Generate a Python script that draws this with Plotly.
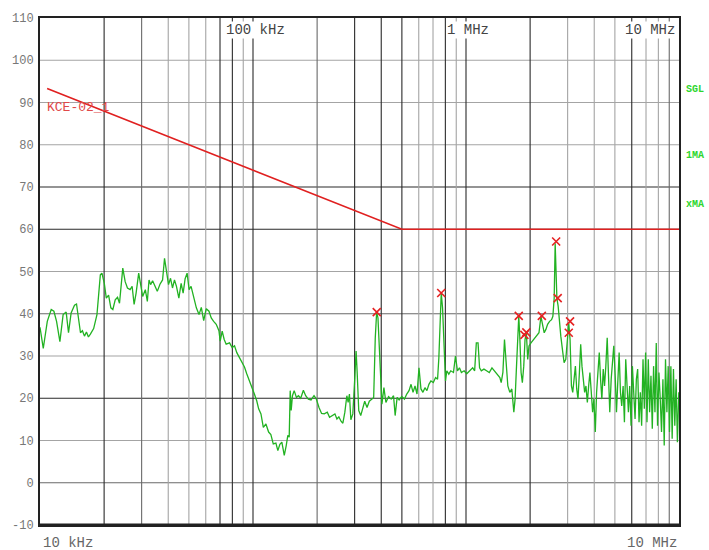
import math
import plotly.graph_objects as go

# ---------------- data ----------------
freq_khz = [
    10.0, 10.36, 10.82, 11.29, 11.62, 11.96, 12.40, 12.84, 13.27, 13.61,
    14.00, 14.52, 14.84, 15.16, 15.49, 15.82, 16.17, 16.52, 16.88, 17.24,
    17.86, 18.51, 19.20, 19.53, 20.04, 20.48, 20.99, 21.51, 21.98, 22.55,
    23.12, 23.62, 24.06, 24.47, 25.11, 25.74, 26.49, 27.07, 27.66, 28.26,
    29.06, 29.70, 30.34, 31.23, 31.91, 32.50, 33.06, 33.78, 34.51, 35.53,
    36.58, 37.62, 38.43, 39.26, 40.12, 41.00, 41.88, 42.79, 43.72, 44.86,
    45.99, 46.99, 48.01, 49.05, 50.12, 51.20, 52.32,
    54.20, 55.79, 57.19, 58.69, 60.35, 62.13, 63.68, 65.35, 67.20, 69.18,
    70.15, 71.67, 73.23, 74.82, 77.62, 79.80, 81.89, 83.94, 86.43, 88.87,
    91.19, 93.46, 96.21, 98.93, 101.5, 104.1, 106.3, 109.0, 111.8, 115.0,
    118.4, 121.3, 124.5, 128.1, 130.8, 133.7, 136.6, 140.2, 143.2, 145.7,
    147.9, 149.5, 151.1, 153.2, 156.1, 159.9, 163.4, 167.5, 172.4, 176.7,
    181.9, 187.3, 193.4, 198.3, 204.1, 209.9, 216.1, 223.2, 228.8, 235.5,
    242.4, 247.7, 253.0, 259.4, 264.2, 269.9, 275.8, 279.7, 283.6, 288.0,
    294.2, 300.6, 304.8, 308.1, 313.7, 320.5, 327.5, 334.6, 343.0, 351.6,
    361.9,
    368.6, 375.0, 380.7, 386.1, 391.5, 397.4, 403.0, 411.7, 420.7, 433.1,
    445.3, 456.9, 464.9, 475.0, 485.3, 499.4, 514.1, 527.0, 540.1, 552.1,
    564.0, 576.3, 588.8, 601.6, 614.6, 627.9, 641.6, 655.5, 669.7, 684.3,
    702.2, 719.7, 735.4, 745.7, 757.0, 765.2, 776.0, 786.9, 801.4, 812.6,
    830.3, 848.3, 873.3, 892.2, 911.8, 931.5, 951.7, 979.7, 1008, 1041,
    1075, 1098, 1118, 1139, 1158, 1180, 1214, 1249, 1286, 1324,
    1361, 1401, 1442,
    1463, 1490, 1516, 1543, 1572, 1606, 1641, 1677, 1700, 1724,
    1750, 1769, 1788, 1814, 1839, 1867, 1893, 1920, 1949, 1976,
    2019, 2079, 2138, 2201, 2248, 2290, 2329, 2372, 2416, 2468,
    2522, 2558, 2594, 2622, 2650, 2671, 2708, 2749, 2787, 2848,
    2888, 2941, 2995, 3037, 3080, 3126, 3170, 3214, 3263, 3309,
    3356, 3407, 3455, 3503, 3556, 3606, 3657, 3713, 3765, 3817,
    3875, 3930, 3985, 4046, 4103, 4161, 4224, 4283, 4344, 4409,
    4471, 4534, 4602, 4667, 4732, 4804, 4872, 4941, 5016, 5087,
    5158, 5236, 5310, 5385, 5466, 5543, 5622, 5707, 5787, 5869,
    5957, 6042, 6126, 6219, 6307, 6396, 6492, 6584, 6677, 6778,
    6874, 6970, 7075, 7175, 7277, 7386, 7491, 7597, 7712, 7821,
    7930, 8050, 8164, 8279, 8404, 8523, 8643, 8774, 8897, 9023,
    9159, 9288, 9419, 9557, 9694, 9829, 9979,
]
level_dbuv = [
    36.8, 31.8, 38.2, 41, 40.6, 38.2, 33.4, 39.8, 40.4, 35.5,
    40.2, 42, 42.3, 39, 35.5, 36, 34.7, 35.7, 34.5, 35.2,
    36.5, 39.8, 49.2, 49.6, 47.2, 43.7, 44.4, 41.4, 41, 43.3,
    43.9, 42.5, 46.9, 50.8, 47.6, 46.1, 45.7, 46.5, 42.2, 44.9,
    49.6, 47.2, 44.1, 45.7, 42.9, 48, 46.9, 47.8, 46.9, 45.3,
    47, 48, 53.1, 50.4, 46.9, 48.4, 46.1, 48, 46.5, 43.7,
    47.2, 44.9, 48.3, 49.6, 45.7, 46.5, 44.5,
    41.4, 39.8, 41.5, 38.4, 41.2, 40.6, 39, 38.2, 37.5, 36,
    33.5, 35.9, 33.9, 32.8, 33.1, 32, 32.4, 30.8, 29.6, 28.4,
    27.4, 25.8, 24.3, 22.5, 21, 19.4, 17.5, 16.3, 13.1, 13.9,
    12, 11.4, 9.2, 9.4, 7.6, 9.1, 9.6, 6.5, 8.8, 11.2,
    10.8, 21.8, 17.1, 20.6, 21.8, 20.2, 20.6, 20, 21.9, 20.6,
    19.8, 19.6, 20.6, 19.8, 17.8, 16.4, 16.3, 16.7, 15.5, 15.9,
    16.3, 15.1, 15.6, 14.5, 14.1, 16.7, 20.6, 19, 21, 14.9,
    16.3, 24.9, 31.2, 26.5, 17.1, 15.9, 17.8, 19.3, 17.8, 19.3,
    19.8,
    20.2, 34.3, 40.4, 39, 32.8, 24.9, 18.6, 22.5, 19, 20.4,
    19.8, 20.6, 15.9, 20.2, 19.6, 20.4, 19.8, 21, 21.8, 23.3,
    21.4, 22.9, 21, 27.2, 22.2, 21.4, 22.5, 21.8, 23.3, 24.1,
    23.7, 24.9, 24.5, 29.6, 39.8, 44.9, 41.4, 32, 24.1, 26.5,
    25.7, 26.5, 26.1, 30, 26.5, 27.2, 26.1, 26.5, 25.8, 26.5,
    27.2, 26.5, 33.1, 33.1, 27.2, 26.5, 26.9, 26.5, 26.1, 27.2,
    26.5, 25.7, 24.9,
    23.7, 26.1, 33.9, 27.6, 22.9, 21.4, 22.2, 16.7, 19.8, 26.9,
    37.1, 39.4, 34.7, 26.1, 23.7, 27.6, 33.9, 35.5, 29.2, 32.4,
    33.1, 33.9, 34.7, 35.5, 39.4, 37.1, 35.5, 36.3, 37.5, 38.2,
    38.6, 39.4, 43.7, 56.7, 51.2, 43.7, 41.8, 37.8, 34.7, 30.8,
    28.4, 29.2, 33.1, 37.8, 33.9, 22.9, 21.4, 24.5, 27.6, 22.2,
    19.8, 26.1, 32.8, 27.6, 23.7, 21.4, 22.9, 19, 22.9, 26.1,
    21.4, 16.7, 19.8, 12, 21.4, 27.6, 30.8, 24.5, 19.8, 26.9,
    22.9, 27.6, 34.3, 25.3, 16.7, 24.5, 29.6, 32.4, 25.3, 16.7,
    23.7, 30.8, 21.4, 18.2, 22.9, 14.3, 29.2, 23.7, 16.7, 22.9,
    13.5, 27.6, 21.4, 15.1, 24.5, 26.9, 14.3, 21.4, 13.5, 29.2,
    17.5, 30.8, 14.3, 29.2, 16.7, 25.3, 12.8, 27.6, 16.7, 33.1,
    13.5, 26.1, 19.8, 12, 24.5, 8.8, 29.2, 16.7, 27.6, 12,
    27.6, 10.4, 26.9, 13.5, 24.5, 9.6, 21.4,
]

marker_khz = [381, 765, 1769, 1880, 1920, 2270, 2650, 2695, 3037, 3080]
marker_dbuv = [40.4, 44.9, 39.5, 35.0, 35.6, 39.5, 57.1, 43.7, 35.5, 38.2]

limit_khz = [10.8, 500, 10000]
limit_dbuv = [93.3, 60, 60]
limit_name = "KCE-02_1"

y_ticks = list(range(-10, 111, 10))

# grid lines: value and shade (k = black, d = dark grey, g = light grey)
vgrid_khz = [20, 30, 40, 50, 60, 70, 80, 90, 100, 200, 300, 400, 500, 600, 700,
             800, 900, 1000, 2000, 3000, 4000, 5000, 6000, 7000, 8000, 9000]
vgrid_shade = ["k", "d", "g", "g", "g", "k", "k", "g", "k", "d", "k", "k", "k", "g", "g",
               "k", "g", "k", "k", "g", "g", "g", "k", "g", "g", "d"]
hgrid_val = [100, 90, 80, 70, 60, 50, 40, 30, 20, 10, 0]
hgrid_shade = ["g", "g", "g", "k", "k", "g", "d", "g", "k", "g", "d"]

top_labels = [(100, "100 kHz"), (1000, "1 MHz"), (10000, "10 MHz")]
side_labels = [(93.1, "SGL"), (77.5, "1MA"), (65.8, "xMA")]

shade_col = {"k": "#2a2a2a", "d": "#6a6a6a", "g": "#a4a4a4"}
MONO = "Liberation Mono, DejaVu Sans Mono, monospace"

# ---------------- figure ----------------
fig = go.Figure()

# vertical grid lines as line traces in data coordinates (one trace per shade)
for shade in ["g", "d", "k"]:
    xs, ys = [], []
    for f, s in zip(vgrid_khz, vgrid_shade):
        if s == shade:
            xs += [f, f, None]
            ys += [-10, 110, None]
    fig.add_trace(go.Scatter(x=xs, y=ys, mode="lines",
                             line=dict(color=shade_col[shade], width=1.1),
                             showlegend=False, hoverinfo="skip"))

fig.add_trace(go.Scatter(
    x=freq_khz, y=level_dbuv, mode="lines",
    line=dict(color="#22b222", width=1.3), showlegend=False, hoverinfo="skip"))

fig.add_trace(go.Scatter(
    x=limit_khz, y=limit_dbuv, mode="lines",
    line=dict(color="#e02020", width=1.6), showlegend=False, hoverinfo="skip"))

fig.add_trace(go.Scatter(
    x=marker_khz, y=marker_dbuv, mode="markers",
    marker=dict(symbol="x-thin", size=8, line=dict(color="#e52222", width=1.6)),
    showlegend=False, hoverinfo="skip"))

shapes = []
for v, s in zip(hgrid_val, hgrid_shade):
    shapes.append(dict(type="line", xref="paper", yref="y",
                       x0=0, x1=1, y0=v, y1=v,
                       line=dict(color=shade_col[s], width=1.1), layer="below"))
# thicker bottom frame
shapes.append(dict(type="line", xref="paper", yref="paper", x0=0, x1=1, y0=0, y1=0,
                   line=dict(color="#222", width=3)))

annotations = []
for f, t in top_labels:
    right = f == top_labels[-1][0]
    annotations.append(dict(
        x=math.log10(f), y=1, xref="x", yref="paper",
        xanchor="right" if right else "center", yanchor="top",
        xshift=-3 if right else 2, yshift=-3,
        text=t, showarrow=False, bgcolor="white", borderpad=0,
        font=dict(family=MONO, size=14, color="#444")))

annotations.append(dict(x=0, y=0, xref="paper", yref="paper", xanchor="left", yanchor="top",
                        xshift=1, yshift=-8, text="10 kHz", showarrow=False,
                        font=dict(family=MONO, size=14, color="#666")))
annotations.append(dict(x=1, y=0, xref="paper", yref="paper", xanchor="right", yanchor="top",
                        xshift=0, yshift=-8, text="10 MHz", showarrow=False,
                        font=dict(family=MONO, size=14, color="#666")))

for v, t in side_labels:
    annotations.append(dict(x=1, y=v, xref="paper", yref="y", xanchor="left", yanchor="middle",
                            xshift=5, text="<b>" + t + "</b>", showarrow=False,
                            font=dict(family=MONO, size=10, color="#2ed62e")))

annotations.append(dict(x=math.log10(limit_khz[0]), y=88.8, xref="x", yref="y",
                        xanchor="left", yanchor="middle", xshift=-2,
                        text=limit_name, showarrow=False,
                        font=dict(family=MONO, size=13, color="#e04848")))

fig.update_layout(
    width=709, height=550,
    margin=dict(l=36, r=30, t=15, b=25),
    paper_bgcolor="white", plot_bgcolor="white",
    shapes=shapes, annotations=annotations,
    xaxis=dict(type="log", range=[math.log10(10), math.log10(10000)],
               showgrid=False, zeroline=False, showticklabels=False, ticks="",
               showline=True, linecolor="#222", linewidth=2, mirror=True),
    yaxis=dict(range=[-10, 110], tickvals=y_ticks, ticktext=[str(v) for v in y_ticks],
               showgrid=False, zeroline=False, ticks="",
               showline=True, linecolor="#222", linewidth=2, mirror=True,
               tickfont=dict(family=MONO, size=12, color="#777"), ticklabelstandoff=2),
)

fig.write_html("out.html", config={"displayModeBar": False},
               post_script="document.body.style.margin='0';document.body.style.padding='0';")
